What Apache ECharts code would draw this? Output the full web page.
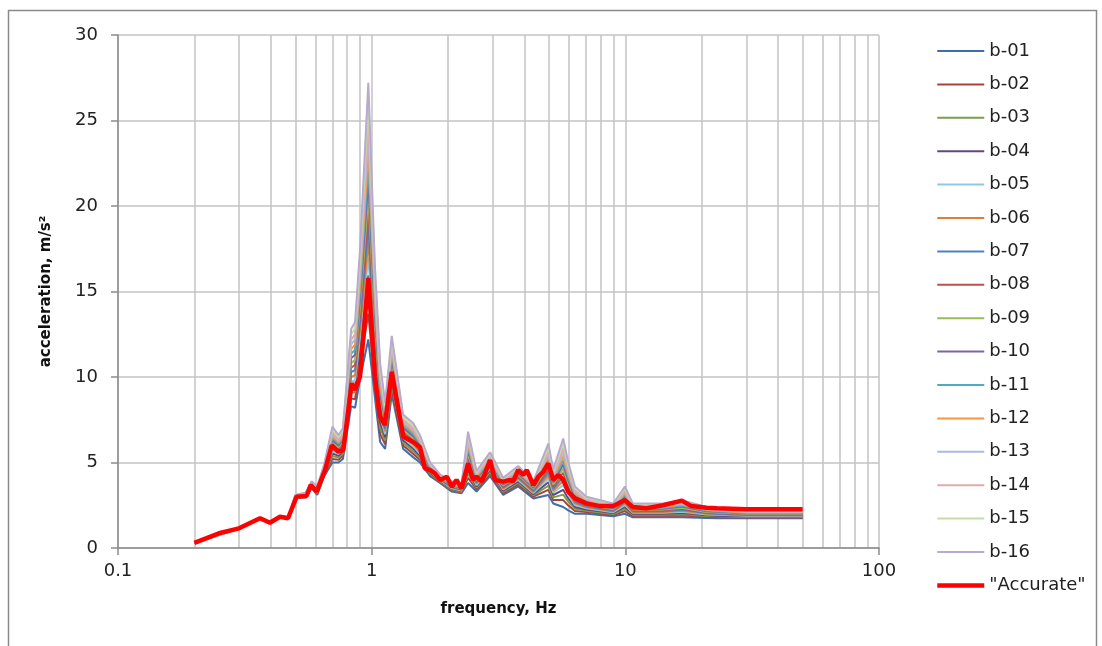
<!DOCTYPE html>
<html>
<head>
<meta charset="utf-8">
<script src="https://cdn.jsdelivr.net/npm/echarts@6/dist/echarts.min.js"></script>
<style>html,body{margin:0;padding:0;background:#fff}#c{width:1102px;height:646px}</style>
</head>
<body>
<div id="c"></div>
<script>
// Frequencies (Hz) for the b-series
const freqB = [0.2,0.3,0.36,0.4,0.44,0.47,0.5,0.55,0.58,0.61,0.65,0.7,0.74,0.77,0.83,0.86,0.9,0.97,1.03,1.08,1.13,1.2,1.33,1.46,1.55,1.7,1.86,2.07,2.26,2.4,2.59,2.93,3.3,3.78,4.34,4.97,5.2,5.69,5.96,6.33,7.03,8.96,9.96,10.7,14.1,16.7,20.9,22.9,30,50];
const b01 = [0.3,1.15,1.72,1.48,1.82,1.74,2.95,2.95,3.5,3.1,4.2,5.0,5.0,5.2,8.3,8.2,9.9,12.2,8.8,6.2,5.8,9.0,5.8,5.3,5.0,4.2,3.8,3.3,3.2,3.8,3.3,4.2,3.1,3.6,2.9,3.1,2.6,2.4,2.2,2.0,2.0,1.85,2.0,1.8,1.8,1.8,1.75,1.74,1.74,1.74];
const b02 = [0.3,1.15,1.72,1.48,1.82,1.75,2.97,2.98,3.54,3.15,4.27,5.21,5.16,5.38,8.75,8.7,10.66,13.7,9.57,6.66,6.07,9.34,6.0,5.5,5.16,4.28,3.85,3.36,3.25,4.1,3.42,4.34,3.2,3.72,3.0,3.4,2.8,2.8,2.48,2.16,2.1,1.93,2.16,1.88,1.88,1.9,1.82,1.8,1.79,1.79];
const b03 = [0.3,1.15,1.73,1.49,1.83,1.75,2.98,3.0,3.57,3.19,4.33,5.38,5.29,5.52,9.11,9.1,11.27,14.9,10.19,7.03,6.29,9.61,6.16,5.66,5.29,4.34,3.89,3.41,3.29,4.34,3.52,4.45,3.28,3.82,3.08,3.64,2.96,3.12,2.7,2.29,2.18,1.99,2.29,1.94,1.94,1.98,1.87,1.85,1.82,1.82];
const b04 = [0.3,1.15,1.73,1.49,1.83,1.76,2.99,3.03,3.6,3.23,4.38,5.53,5.4,5.65,9.43,9.45,11.8,15.95,10.73,7.35,6.48,9.85,6.3,5.8,5.4,4.4,3.93,3.45,3.33,4.55,3.6,4.55,3.35,3.9,3.15,3.85,3.1,3.4,2.9,2.4,2.25,2.04,2.4,2.0,2.0,2.05,1.91,1.89,1.86,1.86];
const b05 = [0.3,1.15,1.73,1.49,1.83,1.76,3.0,3.05,3.63,3.26,4.42,5.67,5.51,5.78,9.74,9.8,12.33,17.0,11.26,7.67,6.66,10.09,6.44,5.94,5.51,4.46,3.96,3.49,3.36,4.76,3.68,4.65,3.42,3.98,3.22,4.06,3.24,3.68,3.1,2.51,2.32,2.09,2.51,2.06,2.06,2.12,1.96,1.94,1.89,1.89];
const b06 = [0.3,1.15,1.74,1.5,1.84,1.76,3.01,3.06,3.65,3.29,4.47,5.8,5.61,5.88,10.01,10.1,12.79,17.9,11.73,7.95,6.83,10.29,6.56,6.06,5.61,4.5,3.99,3.53,3.39,4.94,3.76,4.73,3.48,4.06,3.28,4.24,3.36,3.92,3.26,2.61,2.38,2.14,2.61,2.1,2.1,2.18,2.0,1.97,1.91,1.91];
const b07 = [0.3,1.15,1.74,1.5,1.84,1.77,3.02,3.08,3.68,3.32,4.51,5.92,5.7,5.99,10.28,10.4,13.24,18.8,12.19,8.22,6.99,10.5,6.68,6.18,5.7,4.55,4.02,3.56,3.42,5.12,3.83,4.82,3.54,4.13,3.34,4.42,3.48,4.16,3.43,2.7,2.44,2.18,2.7,2.15,2.15,2.24,2.04,2.01,1.94,1.94];
const b08 = [0.3,1.15,1.74,1.5,1.84,1.77,3.03,3.1,3.7,3.35,4.55,6.05,5.8,6.1,10.55,10.7,13.7,19.7,12.65,8.5,7.15,10.7,6.8,6.3,5.8,4.6,4.05,3.6,3.45,5.3,3.9,4.9,3.6,4.2,3.4,4.6,3.6,4.4,3.6,2.8,2.5,2.23,2.8,2.2,2.2,2.3,2.08,2.05,1.97,1.97];
const b09 = [0.3,1.15,1.74,1.5,1.84,1.77,3.03,3.12,3.72,3.38,4.59,6.18,5.9,6.21,10.82,11.0,14.16,20.6,13.11,8.78,7.31,10.9,6.92,6.42,5.9,4.65,4.08,3.64,3.48,5.48,3.97,4.98,3.66,4.27,3.46,4.78,3.72,4.64,3.77,2.9,2.56,2.27,2.9,2.25,2.25,2.36,2.11,2.08,2.0,2.0];
const b10 = [0.3,1.15,1.74,1.5,1.84,1.78,3.04,3.14,3.75,3.41,4.63,6.3,5.99,6.32,11.09,11.3,14.61,21.5,13.57,9.05,7.47,11.11,7.04,6.54,5.99,4.7,4.11,3.67,3.51,5.66,4.04,5.07,3.72,4.34,3.52,4.96,3.84,4.88,3.94,2.99,2.62,2.32,2.99,2.3,2.3,2.42,2.15,2.12,2.03,2.03];
const b11 = [0.3,1.15,1.75,1.51,1.85,1.78,3.05,3.15,3.77,3.44,4.68,6.43,6.09,6.42,11.36,11.6,15.07,22.4,14.04,9.33,7.64,11.31,7.16,6.66,6.09,4.74,4.14,3.71,3.54,5.84,4.12,5.15,3.78,4.42,3.58,5.14,3.96,5.12,4.1,3.09,2.68,2.36,3.09,2.34,2.34,2.48,2.19,2.15,2.05,2.05];
const b12 = [0.3,1.15,1.75,1.51,1.85,1.78,3.06,3.17,3.8,3.47,4.72,6.55,6.18,6.53,11.63,11.9,15.52,23.3,14.5,9.6,7.8,11.52,7.28,6.78,6.18,4.79,4.17,3.74,3.57,6.02,4.19,5.24,3.84,4.49,3.64,5.32,4.08,5.36,4.27,3.18,2.74,2.41,3.18,2.39,2.39,2.54,2.23,2.19,2.08,2.08];
const b13 = [0.3,1.15,1.75,1.51,1.85,1.79,3.07,3.19,3.82,3.5,4.76,6.68,6.28,6.64,11.9,12.2,15.98,24.2,14.96,9.88,7.96,11.72,7.4,6.9,6.28,4.84,4.2,3.78,3.6,6.2,4.26,5.32,3.9,4.56,3.7,5.5,4.2,5.6,4.44,3.28,2.8,2.45,3.28,2.44,2.44,2.6,2.27,2.23,2.11,2.11];
const b14 = [0.3,1.15,1.75,1.51,1.85,1.79,3.08,3.21,3.84,3.53,4.8,6.81,6.38,6.75,12.17,12.5,16.44,25.1,15.42,10.16,8.12,11.92,7.52,7.02,6.38,4.89,4.23,3.82,3.63,6.38,4.33,5.4,3.96,4.63,3.76,5.68,4.32,5.84,4.61,3.38,2.86,2.5,3.38,2.49,2.49,2.66,2.31,2.26,2.14,2.14];
const b15 = [0.3,1.15,1.76,1.52,1.86,1.8,3.09,3.23,3.87,3.57,4.85,6.95,6.49,6.87,12.49,12.85,16.97,26.15,15.96,10.48,8.31,12.16,7.66,7.16,6.49,4.94,4.27,3.86,3.67,6.59,4.42,5.5,4.03,4.72,3.83,5.89,4.46,6.12,4.8,3.49,2.93,2.55,3.49,2.54,2.54,2.73,2.35,2.31,2.17,2.17];
const b16 = [0.3,1.15,1.76,1.52,1.86,1.8,3.1,3.25,3.9,3.6,4.9,7.1,6.6,7.0,12.8,13.2,17.5,27.2,16.5,10.8,8.5,12.4,7.8,7.3,6.6,5.0,4.3,3.9,3.7,6.8,4.5,5.6,4.1,4.8,3.9,6.1,4.6,6.4,5.0,3.6,3.0,2.6,3.6,2.6,2.6,2.8,2.4,2.35,2.2,2.2];

// "Accurate" curve
const freqAcc = [0.2,0.25,0.3,0.363,0.397,0.435,0.468,0.506,0.554,0.575,0.607,0.655,0.696,0.738,0.773,0.834,0.859,0.899,0.97,1.03,1.078,1.127,1.2,1.333,1.458,1.55,1.62,1.7,1.776,1.86,1.98,2.07,2.16,2.26,2.4,2.51,2.59,2.72,2.93,3.06,3.3,3.51,3.61,3.78,3.96,4.09,4.34,4.54,4.75,4.97,5.2,5.44,5.69,5.96,6.33,7.03,7.94,8.96,9.96,10.7,12.1,14.1,16.7,18.2,20.9,22.9,30,50];
const accurate = [0.3,0.86,1.15,1.74,1.48,1.83,1.74,3.0,3.04,3.68,3.3,4.56,6.0,5.63,5.73,9.63,9.24,10.0,15.8,10.0,7.7,7.2,10.3,6.5,6.2,5.9,4.66,4.56,4.37,3.98,4.17,3.58,3.98,3.49,4.95,3.98,4.17,3.88,5.15,3.98,3.88,3.98,3.88,4.56,4.27,4.56,3.68,4.17,4.46,4.95,3.98,4.27,3.98,3.29,2.9,2.61,2.45,2.45,2.8,2.4,2.32,2.5,2.77,2.45,2.36,2.32,2.27,2.26];

const seriesNames = ['b-01','b-02','b-03','b-04','b-05','b-06','b-07','b-08','b-09','b-10','b-11','b-12','b-13','b-14','b-15','b-16'];
const seriesValues = [b01,b02,b03,b04,b05,b06,b07,b08,b09,b10,b11,b12,b13,b14,b15,b16];
const seriesColors = ['#3F6EA8','#A8423E','#7F9C48','#5F4A80','#8DCADF','#D9813A','#4F81BD','#C0504D','#9BBB59','#8064A2','#4BACC6','#F79646','#A8BAE0','#E0AAA8','#C7DCA6','#B7A9CF'];
const accName = '"Accurate"';

const minorGrid = [0.2,0.3,0.4,0.5,0.6,0.7,0.8,0.9,2,3,4,5,6,7,8,9,20,30,40,50,60,70,80,90];
const yTicks = [0,5,10,15,20,25,30];

const FONT = 'DejaVu Sans';
const GRID = '#C3C3C3';

const series = [{
  name: '_grid', type: 'line', data: [], z: 0, silent: true,
  markLine: {
    silent: true, symbol: 'none', animation: false, z: 0,
    label: { show: false },
    lineStyle: { color: GRID, width: 1.5, type: 'solid' },
    emphasis: { disabled: true },
    data: minorGrid.map(v => ({ xAxis: v }))
  }
}];
seriesNames.forEach((n, i) => {
  series.push({
    name: n, type: 'line', z: 2,
    data: freqB.map((f, j) => [f, seriesValues[i][j]]),
    showSymbol: false, symbol: 'none',
    lineStyle: { width: 2, color: seriesColors[i] },
    itemStyle: { color: seriesColors[i] }
  });
});
series.push({
  name: accName, type: 'line', z: 3,
  data: freqAcc.map((f, j) => [f, accurate[j]]),
  showSymbol: false, symbol: 'none',
  lineStyle: { width: 4.5, color: '#FF0000' },
  itemStyle: { color: '#FF0000' }
});

const legendData = seriesNames.map(n => ({ name: n, lineStyle: { width: 2 } }))
  .concat([{ name: accName, lineStyle: { width: 4.5, color: '#FF0000' } }]);

const chart = echarts.init(document.getElementById('c'), null, { renderer: 'canvas' });
chart.setOption({
  animation: false,
  backgroundColor: '#ffffff',
  textStyle: { fontFamily: FONT },
  graphic: [{
    type: 'rect', silent: true, z: -1,
    shape: { x: 8.5, y: 10.5, width: 1088, height: 700 },
    style: { fill: 'none', stroke: '#8a8a8a', lineWidth: 1.5 }
  }],
  grid: { left: 118, right: 223, top: 35, bottom: 98 },
  xAxis: {
    type: 'log', logBase: 10, min: 0.1, max: 100,
    name: 'frequency, Hz', nameLocation: 'middle', nameGap: 54,
    nameTextStyle: { fontFamily: FONT, fontWeight: 'bold', fontSize: 15, color: '#111' },
    axisLine: { show: true, lineStyle: { color: '#8c8c8c', width: 1.5 } },
    axisTick: { show: true, length: 7, lineStyle: { color: '#8c8c8c', width: 1.5 } },
    axisLabel: { fontFamily: FONT, fontSize: 18, color: '#222', margin: 14,
      formatter: v => String(Math.round(v * 10) / 10) },
    splitLine: { show: true, lineStyle: { color: GRID, width: 1.5 } },
    minorTick: { show: false }, minorSplitLine: { show: false }
  },
  yAxis: {
    type: 'value', min: 0, max: 30, interval: 5,
    name: 'acceleration, m/s\u00B2', nameLocation: 'middle', nameGap: 64, nameRotate: 90,
    nameTextStyle: { fontFamily: FONT, fontWeight: 'bold', fontSize: 15, color: '#111' },
    axisLine: { show: true, lineStyle: { color: '#8c8c8c', width: 1.5 } },
    axisTick: { show: true, length: 7, lineStyle: { color: '#8c8c8c', width: 1.5 } },
    axisLabel: { fontFamily: FONT, fontSize: 18, color: '#222', margin: 20,
      formatter: v => (yTicks.indexOf(v) >= 0 ? String(v) : '') },
    splitLine: { show: true, lineStyle: { color: GRID, width: 1.5 } }
  },
  legend: {
    orient: 'vertical', left: 935, top: 42, padding: 0,
    itemWidth: 47, itemHeight: 18, itemGap: 15.4,
    itemStyle: { opacity: 0, borderWidth: 0 },
    data: legendData,
    textStyle: { fontFamily: FONT, fontSize: 18, color: '#222' }
  },
  series: series
});
</script>
</body>
</html>
